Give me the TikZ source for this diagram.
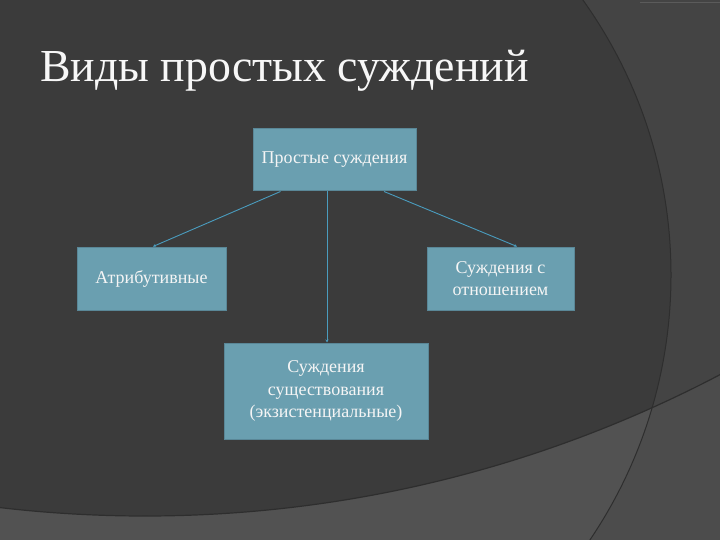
\documentclass[tikz,border=0pt]{standalone}
\usepackage{fontspec}
\setmainfont{Liberation Serif}
\usetikzlibrary{arrows.meta}
\definecolor{bgdark}{HTML}{3B3B3B}
\definecolor{bgright}{HTML}{444444}
\definecolor{bgbandin}{HTML}{525252}
\definecolor{bgbandout}{HTML}{4C4C4C}
\definecolor{edgeline}{HTML}{2E2E2E}
\definecolor{boxfill}{HTML}{6A9FB0}
\definecolor{boxedge}{HTML}{5A8797}
\definecolor{linkcol}{HTML}{4A9CBE}
\tikzset{
  box/.style={draw=boxedge, fill=boxfill, line width=1pt, text=white!96!black,
    font=\fontsize{18}{22.5}\selectfont, align=center, inner sep=0pt},
  link/.style={draw=linkcol, line width=0.9pt, -{Stealth[length=3pt,width=3pt]}},
  title/.style={text=white!97!black, font=\fontsize{45.8}{52}\selectfont, inner sep=0pt}
}
\begin{document}
\begin{tikzpicture}[x=1pt,y=-1pt]
\useasboundingbox (0,0) rectangle (720,540);
\clip (0,0) rectangle (720,540);
% background
\fill[bgright] (0,0) rectangle (720,540);
\fill[bgbandout, even odd rule] (-10,-10) rectangle (730,550) (145,-722) circle[radius=1238];
\begin{scope}
  \clip (198,275) circle[radius=473];
  \fill[bgdark] (198,275) circle[radius=473];
  \fill[bgbandin, even odd rule] (-10,-10) rectangle (730,550) (145,-722) circle[radius=1238];
\end{scope}
\draw[edgeline, line width=1pt] (198,275) circle[radius=473];
\draw[edgeline, line width=1.2pt] (145,-722) circle[radius=1238];
\draw[white!12!bgright, line width=0.8pt] (640,2) -- (720,2);
% title
\node[title, anchor=base west] (t) at (40,82) {Виды простых суждений};
% boxes
\node[box, minimum width=163pt, minimum height=62pt] (p) at (334.5,160) {Простые суждения};
\node[box, minimum width=149pt, minimum height=63pt] (a) at (151.5,278.5) {Атрибутивные};
\node[box, minimum width=147pt, minimum height=63pt] (r) at (500.5,278.5) {Суждения с\\отношением};
\node[box, minimum width=204pt, minimum height=96pt] (e) at (326,391) {Суждения\\существования\\(экзистенциальные)};
% connectors
\draw[link] ([xshift=-54pt]p.south) -- ([xshift=1.5pt]a.north);
\draw[link] ([xshift=-7.5pt]p.south) -- ([xshift=1pt]e.north);
\draw[link] ([xshift=49.5pt]p.south) -- ([xshift=16.5pt]r.north);
\end{tikzpicture}
\end{document}
